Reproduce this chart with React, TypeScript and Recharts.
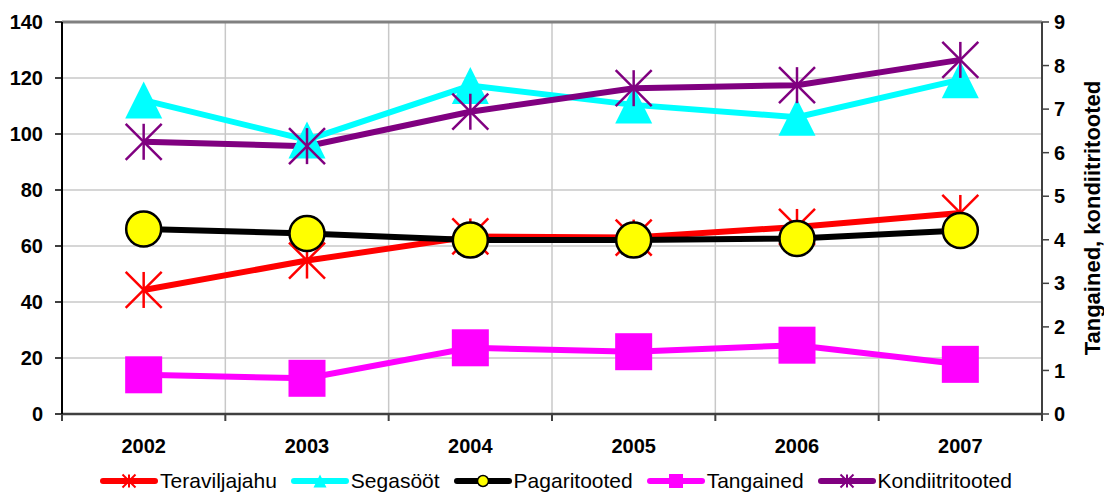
import React from 'react';
import { LineChart, Line, XAxis, YAxis, CartesianGrid, Legend, ReferenceLine } from 'recharts';

const categories = ['2002', '2003', '2004', '2005', '2006', '2007'];
const teraviljajahu = [44.3, 54.8, 63.4, 63.0, 66.8, 71.8];
const segasoot = [112.1, 97.9, 117.3, 110.4, 106.0, 119.4];
const pagaritooted = [66.1, 64.5, 62.1, 62.1, 62.7, 65.5];
const tangained = [0.9, 0.82, 1.52, 1.43, 1.58, 1.14];
const kondiitritooted = [6.25, 6.15, 6.94, 7.48, 7.55, 8.13];
const leftTicks = [0, 20, 40, 60, 80, 100, 120, 140];
const rightTicks = [0, 1, 2, 3, 4, 5, 6, 7, 8, 9];

const data = categories.map((year, i) => ({
  year,
  Teraviljajahu: teraviljajahu[i],
  'Segasööt': segasoot[i],
  Pagaritooted: pagaritooted[i],
  Tangained: tangained[i],
  Kondiitritooted: kondiitritooted[i],
}));

const FONT = '"Liberation Sans", Arial, sans-serif';

type MarkerKind = 'star' | 'triangle' | 'circle' | 'square';

function Marker({ kind, cx, cy, s, color }: { kind: MarkerKind; cx: number; cy: number; s: number; color: string }) {
  const h = s / 2;
  if (kind === 'star') {
    const sw = s > 20 ? 2.5 : 2;
    return (
      <g>
        <line x1={cx - h} y1={cy - h} x2={cx + h} y2={cy + h} stroke={color} strokeWidth={sw} />
        <line x1={cx - h} y1={cy + h} x2={cx + h} y2={cy - h} stroke={color} strokeWidth={sw} />
        <line x1={cx} y1={cy - h} x2={cx} y2={cy + h} stroke={color} strokeWidth={sw} />
      </g>
    );
  }
  if (kind === 'triangle') {
    return <polygon points={`${cx},${cy - h} ${cx + h},${cy + h} ${cx - h},${cy + h}`} fill={color} />;
  }
  if (kind === 'circle') {
    return <circle cx={cx} cy={cy} r={h} fill="#FFFF00" stroke="#000000" strokeWidth={s > 20 ? 2.5 : 1.5} />;
  }
  return <rect x={cx - h} y={cy - h} width={s} height={s} fill={color} />;
}

const series: { key: string; color: string; kind: MarkerKind; axis: string; size: number }[] = [
  { key: 'Teraviljajahu', color: '#FF0000', kind: 'star', axis: 'left', size: 36 },
  { key: 'Segasööt', color: '#00FFFF', kind: 'triangle', axis: 'left', size: 37 },
  { key: 'Pagaritooted', color: '#000000', kind: 'circle', axis: 'left', size: 35 },
  { key: 'Tangained', color: '#FF00FF', kind: 'square', axis: 'right', size: 37 },
  { key: 'Kondiitritooted', color: '#800080', kind: 'star', axis: 'right', size: 36 },
];

const legendMarkerSize: Record<MarkerKind, number> = { star: 13, triangle: 13, circle: 11, square: 14 };

function LegendContent() {
  return (
    <div
      style={{
        display: 'flex',
        justifyContent: 'center',
        alignItems: 'center',
        height: 28,
        fontFamily: FONT,
        fontSize: 21,
        color: '#000',
        paddingLeft: 8,
      }}
    >
      {series.map((s, i) => (
        <div key={s.key} style={{ display: 'flex', alignItems: 'center', marginRight: i < series.length - 1 ? 14 : 0 }}>
          <svg width={58} height={20} style={{ marginRight: 2 }}>
            <line x1={3} y1={10} x2={55} y2={10} stroke={s.color} strokeWidth={6} strokeLinecap="round" />
            <Marker kind={s.kind} cx={29} cy={10} s={legendMarkerSize[s.kind]} color={s.color} />
          </svg>
          <span style={{ lineHeight: '20px' }}>{s.key}</span>
        </div>
      ))}
    </div>
  );
}

const tickStyle = { fontFamily: FONT, fontSize: 20, fontWeight: 700, fill: '#000' };

function CatTick(props: any) {
  const { x, y, payload, index, visibleTicksCount } = props;
  const half = payload && typeof payload.offset === 'number' ? payload.offset : 0;
  const axisY = y - 25;
  const isLast = index === (visibleTicksCount ?? categories.length) - 1;
  return (
    <g>
      <line x1={x - half} y1={axisY} x2={x - half} y2={axisY + 7} stroke="#404040" strokeWidth={2} />
      {isLast && <line x1={x + half} y1={axisY} x2={x + half} y2={axisY + 7} stroke="#404040" strokeWidth={2} />}
      <text x={x} y={y} dy="0.71em" textAnchor="middle" style={tickStyle}>
        {payload.value}
      </text>
    </g>
  );
}

function RightLabel(props: any) {
  const vb = props.viewBox || {};
  const cx = (vb.x ?? 1042) + 50;
  const cy = (vb.y ?? 22) + (vb.height ?? 392) / 2;
  return (
    <text
      x={cx}
      y={cy}
      transform={`rotate(-90, ${cx}, ${cy})`}
      textAnchor="middle"
      dominantBaseline="central"
      style={{ fontFamily: FONT, fontSize: 22, fontWeight: 700, fill: '#000' }}
    >
      Tangained, kondiitritooted
    </text>
  );
}

export default function App() {
  return (
    <div style={{ position: 'absolute', left: 0, top: 0, width: 1104, height: 495, background: '#fff' }}>
      <LineChart width={1104} height={495} data={data} margin={{ top: 22, right: 0, left: 0, bottom: 0 }}>
        <CartesianGrid
          yAxisId="left"
          stroke="#C8C8C8"
          strokeWidth={1.5}
          verticalCoordinatesGenerator={(p: any) => {
            const off = p.offset;
            return categories.map((_, i) => off.left + (off.width * i) / categories.length).concat([off.left + off.width]);
          }}
        />
        <XAxis
          dataKey="year"
          scale="band"
          height={53}
          tickSize={0}
          tickMargin={25}
          axisLine={{ stroke: '#404040', strokeWidth: 2.5 }}
          tickLine={false}
          tick={<CatTick />}
          interval={0}
        />
        <YAxis
          yAxisId="left"
          orientation="left"
          domain={[0, 140]}
          ticks={leftTicks}
          width={62}
          tickSize={7}
          tickMargin={12}
          tick={tickStyle}
          axisLine={{ stroke: '#000', strokeWidth: 2 }}
          tickLine={{ stroke: '#000', strokeWidth: 1.5 }}
          interval={0}
        />
        <YAxis
          yAxisId="right"
          orientation="right"
          domain={[0, 9]}
          ticks={rightTicks}
          width={62}
          tickSize={7}
          tickMargin={5}
          tick={tickStyle}
          axisLine={{ stroke: '#404040', strokeWidth: 2 }}
          tickLine={{ stroke: '#404040', strokeWidth: 1.5 }}
          interval={0}
          label={<RightLabel />}
        />
        <ReferenceLine yAxisId="left" y={140} stroke="#808080" strokeWidth={3} />
        {series.map((s) => (
          <Line
            key={s.key}
            yAxisId={s.axis}
            type="linear"
            dataKey={s.key}
            stroke={s.color}
            strokeWidth={6}
            isAnimationActive={false}
            activeDot={false}
            dot={(p: any) => (
              <Marker key={`${s.key}-${p.index}`} kind={s.kind} cx={p.cx} cy={p.cy} s={s.size} color={s.color} />
            )}
          />
        ))}
        <Legend verticalAlign="bottom" height={28} content={() => <LegendContent />} />
      </LineChart>
    </div>
  );
}
